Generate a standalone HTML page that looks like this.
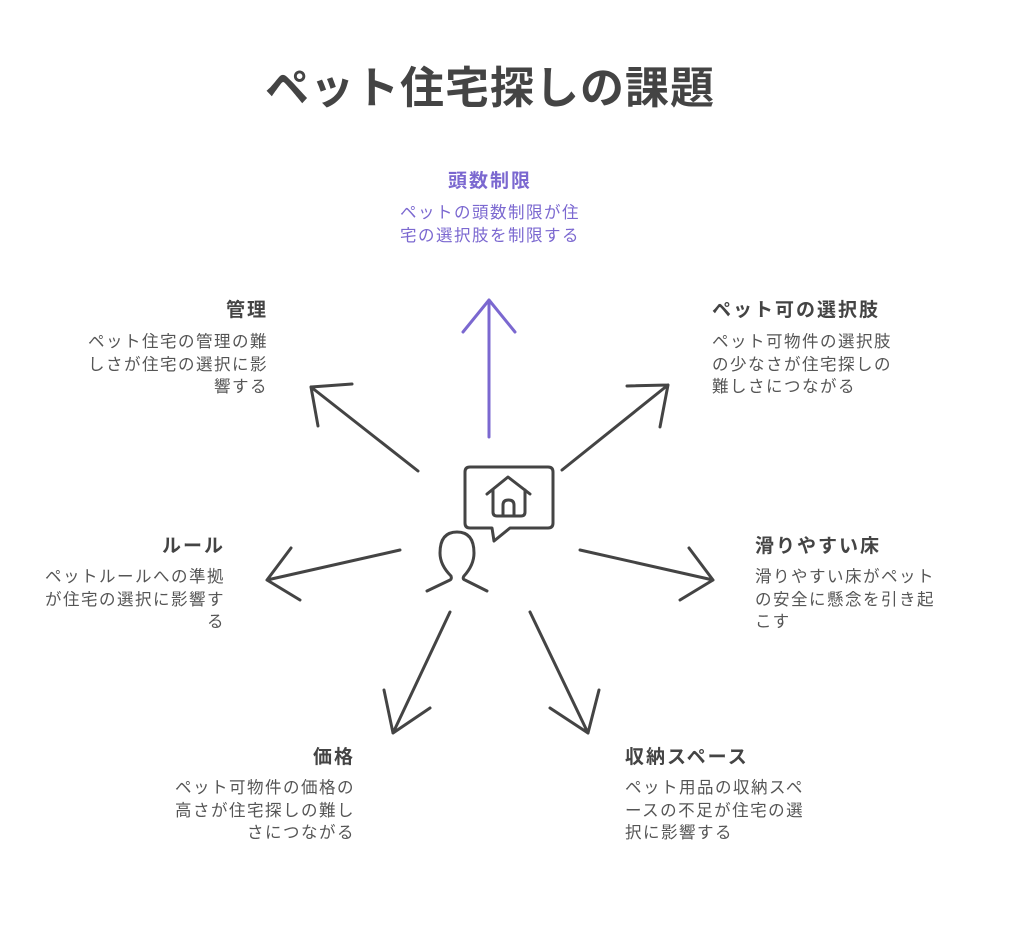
<!DOCTYPE html>
<html><head><meta charset="utf-8"><style>
body{margin:0;width:1024px;height:929px;background:#fff;position:relative;font-family:"Liberation Sans","Noto Sans CJK JP",sans-serif;color:#444}
.t{position:absolute;font-weight:bold;font-size:19px;line-height:22px;letter-spacing:2px}
.d{position:absolute;font-size:16.5px;line-height:22.5px;color:#555;letter-spacing:1.5px}
.r{text-align:right}.c{text-align:center}
.r.t{margin-right:-2px}.r.d{margin-right:-1.5px}
</style></head><body>
<div style="position:absolute;left:0;width:980px;top:52px;text-align:center;font-size:44px;font-weight:bold;color:#444;letter-spacing:1px">ペット住宅探しの課題</div>

<div class="t c" style="left:390px;width:200px;top:171px;color:#7b68d0">頭数制限</div>
<div class="d c" style="left:370px;width:240px;top:202px;color:#7b68d0">ペットの頭数制限が住<br>宅の選択肢を制限する</div>

<div class="t r" style="left:40px;width:228px;top:300px">管理</div>
<div class="d r" style="left:40px;width:228px;top:331px">ペット住宅の管理の難<br>しさが住宅の選択に影<br>響する</div>

<div class="t" style="left:712px;top:300px">ペット可の選択肢</div>
<div class="d" style="left:712px;top:331px">ペット可物件の選択肢<br>の少なさが住宅探しの<br>難しさにつながる</div>

<div class="t r" style="left:0px;width:225px;top:536px">ルール</div>
<div class="d r" style="left:0px;width:225px;top:566px">ペットルールへの準拠<br>が住宅の選択に影響す<br>る</div>

<div class="t" style="left:755px;top:536px">滑りやすい床</div>
<div class="d" style="left:755px;top:566px">滑りやすい床がペット<br>の安全に懸念を引き起<br>こす</div>

<div class="t r" style="left:125px;width:230px;top:747px">価格</div>
<div class="d r" style="left:125px;width:230px;top:777px">ペット可物件の価格の<br>高さが住宅探しの難し<br>さにつながる</div>

<div class="t" style="left:625px;top:747px">収納スペース</div>
<div class="d" style="left:625px;top:777px">ペット用品の収納スペ<br>ースの不足が住宅の選<br>択に影響する</div>

<svg width="1024" height="929" style="position:absolute;left:0;top:0" fill="none" stroke-linecap="round" stroke-linejoin="round">
<g stroke="#7b68d0" stroke-width="3">
<path d="M489 437V300M463 332L489 300L515 332"/>
</g>
<g stroke="#444" stroke-width="3">
<path d="M418 471L311 387M352 384L311 387L318 426"/>
<path d="M562 470L668 385M627 386L668 385L660 427"/>
<path d="M400 550L267 580M291 548L267 580L300 600"/>
<path d="M580 550L713 580M689 548L713 580L680 600"/>
<path d="M450 612L393 733M384 690L393 733L430 708"/>
<path d="M530 612L588 733M550 708L588 733L599 690"/>
</g>
<g stroke="#444" stroke-width="3">
<path d="M470 467H548Q553 467 553 472V523Q553 528 548 528H510L494 541L492 528H470Q465 528 465 523V472Q465 467 470 467Z"/>
<path d="M487 494L508 477L530 494M493 490V512Q493 516 497 516H521Q525 516 525 512V490"/>
<path d="M503 516V505Q503 500 508.5 500Q514 500 514 505V516"/>
<path d="M427 591L450 580Q452 579 451 576Q440 565 440 553Q440 532 457 532Q474 532 474 553Q474 565 464 576Q462 579 465 580L487 591"/>
</g>
</svg>
</body></html>
